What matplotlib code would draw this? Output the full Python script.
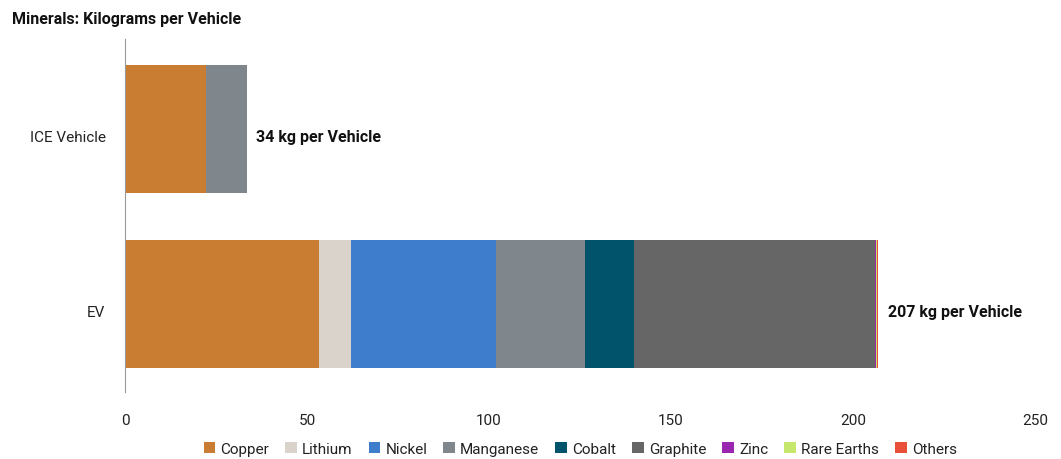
import matplotlib
matplotlib.use("Agg")
import matplotlib.pyplot as plt
import numpy as np

plt.rcParams['font.family'] = ['Roboto', 'DejaVu Sans']

categories = ["EV", "ICE Vehicle"]
minerals = ["Copper", "Lithium", "Nickel", "Manganese", "Cobalt",
            "Graphite", "Zinc", "Rare Earths", "Others"]
# kg per vehicle, rows follow categories
ev_values = [53.2, 8.9, 39.9, 24.5, 13.3, 66.3, 0.1, 0.5, 0.3]
ice_values = [22.3, 0.0, 0.0, 11.2, 0.0, 0.0, 0.0, 0.0, 0.0]
totals = [207, 34]
colors = ["#c97d32", "#d9d3cc", "#3d7dcc", "#7f868c", "#00536b",
          "#666666", "#9b27b0", "#c5e86c", "#e8503a"]

fig = plt.figure(figsize=(10.61, 4.6), dpi=100)
ax = fig.add_axes([0.1178, 0.1457, 0.8577, 0.7673])

data = np.array([ev_values, ice_values])
y = np.arange(len(categories))
left = np.zeros(len(categories))
for i, name in enumerate(minerals):
    ax.barh(y, data[:, i], left=left, height=0.73, color=colors[i],
            label=name, linewidth=0)
    left += data[:, i]

for yi, tot, end in zip(y, totals, left):
    ax.text(end + 2.5, yi - 0.045, f"{tot} kg per Vehicle", va="center", ha="left",
            fontsize=11.5, fontweight="bold", color="#111111")

ax.set_xlim(0, 250)
ax.set_ylim(-0.503, 1.514)
# labels sit a little below the bar centres, as in the original
ax.set_yticks(y - 0.04, categories, fontsize=11, color="#222222")
ax.set_xticks([0, 50, 100, 150, 200, 250])
ax.tick_params(axis="x", labelsize=11, colors="#222222", length=0, pad=15)
ax.tick_params(axis="y", length=0, pad=14)
for s in ["top", "right", "bottom"]:
    ax.spines[s].set_visible(False)
ax.spines["left"].set_color("#999999")
ax.spines["left"].set_linewidth(0.8)

fig.text(0.011, 0.957, "Minerals: Kilograms per Vehicle", fontsize=11.5,
         fontweight="bold", color="#111111", va="center")

fig.legend(loc="center", bbox_to_anchor=(0.547, 0.022), ncol=9, frameon=False,
           fontsize=11, handlelength=0.75, handleheight=0.75, handletextpad=0.35,
           columnspacing=1.05, labelcolor="#222222")

fig.savefig("out.png", dpi=100)
